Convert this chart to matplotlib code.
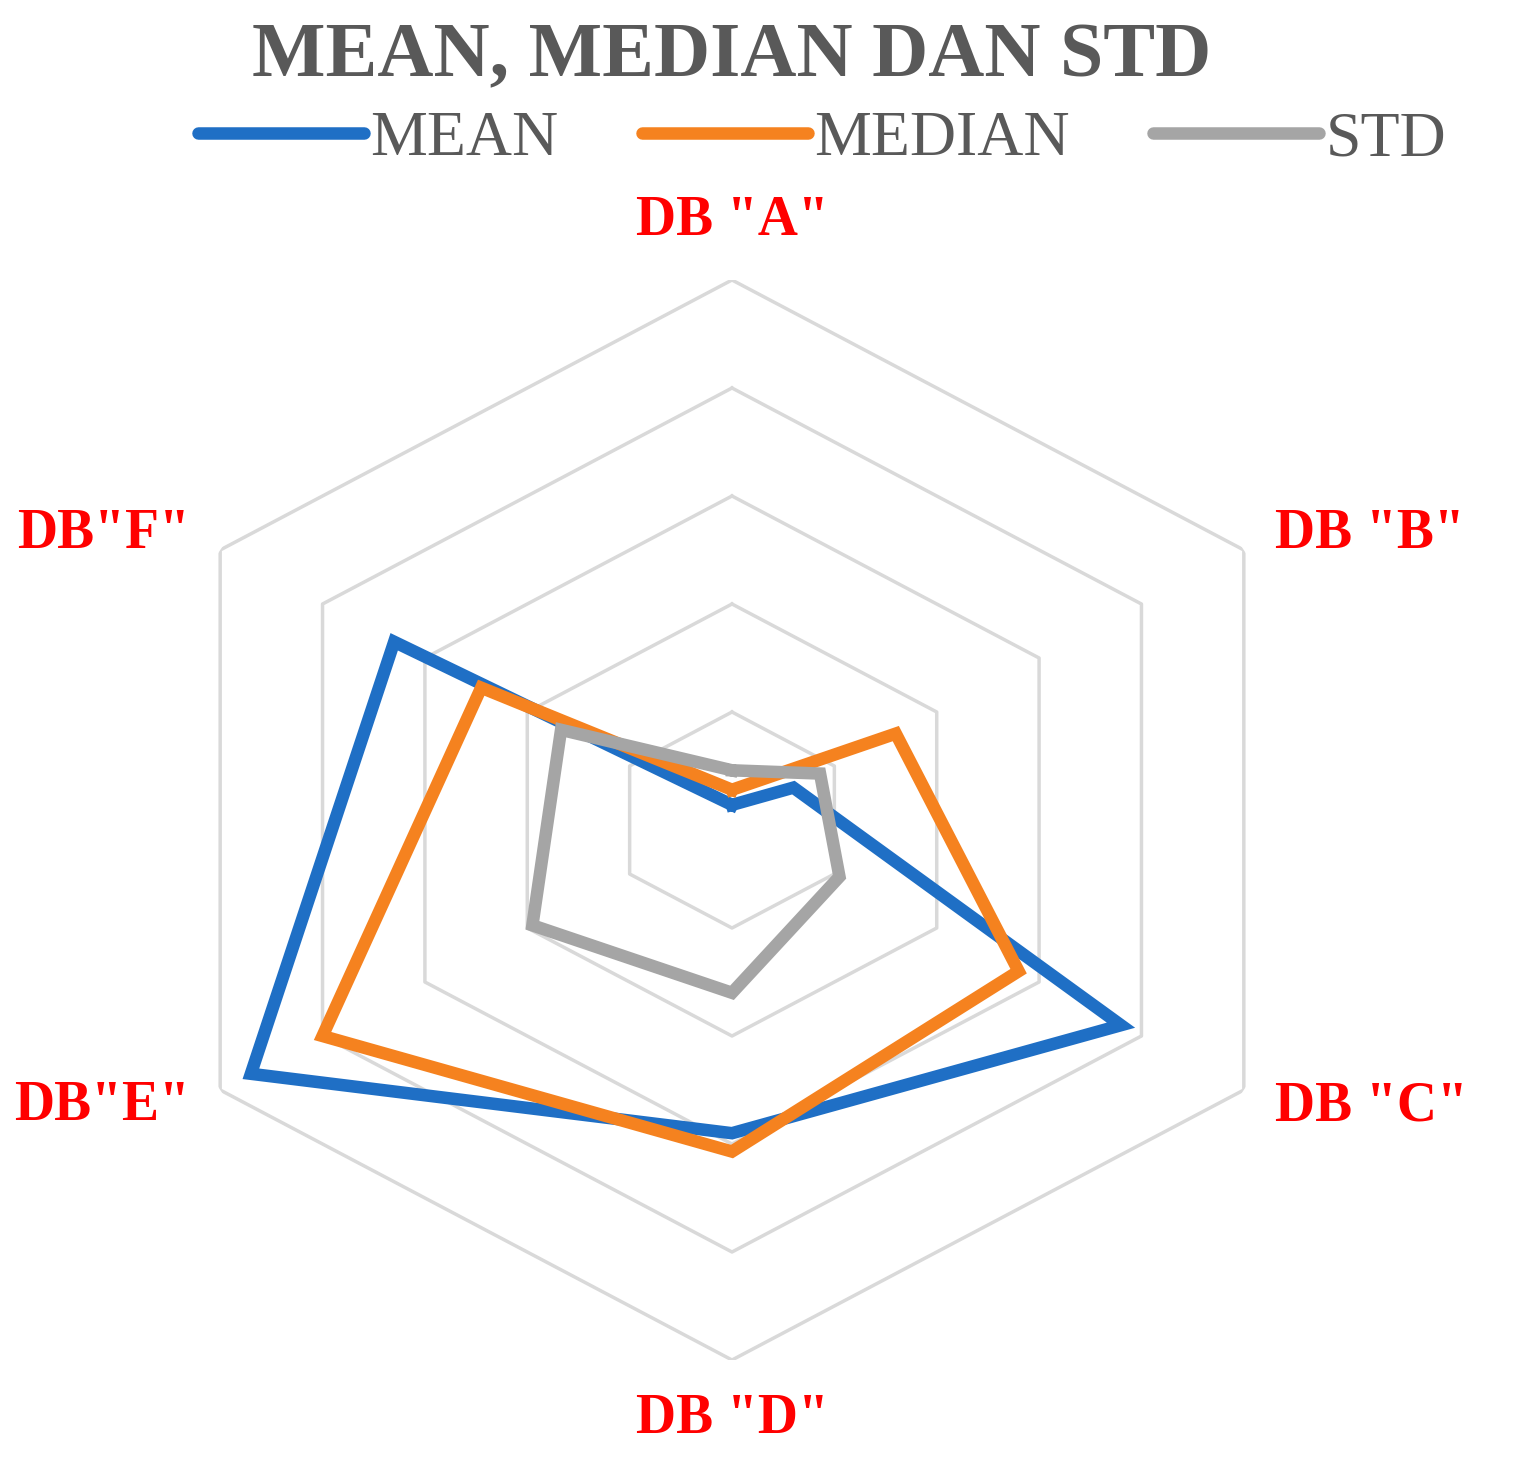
import numpy as np
import matplotlib
matplotlib.use("Agg")
import matplotlib.pyplot as plt

categories = ['DB "A"', 'DB "B"', 'DB "C"', 'DB "D"', 'DB"E"', 'DB"F"']
mean = [0.14, 0.6, 3.8, 2.9, 4.7, 3.3]
median = [0.28, 1.6, 2.8, 3.07, 4.0, 2.45]
std = [0.46, 0.86, 1.05, 1.6, 1.95, 1.67]
series = [("MEAN", mean, "#1f6fc5"), ("MEDIAN", median, "#f5821f"), ("STD", std, "#a5a5a5")]

W, H = 1539, 1473
fig = plt.figure(figsize=(W/100, H/100), dpi=100)
ax = fig.add_axes([141/W, 113/H, 1182/W, 1080/H], projection="polar")
ax.set_aspect("auto")
ax.set_theta_zero_location("N")
ax.set_theta_direction(-1)
ax.set_ylim(0, 5)
ax.grid(False)
ax.spines["polar"].set_visible(False)
ax.set_xticks([]); ax.set_yticks([])

n = len(categories)
theta = np.arange(n) * 2*np.pi/n
tc = np.append(theta, theta[0])
for r in range(1, 6):
    ax.plot(tc, [r]*(n+1), color="#d9d9d9", lw=2.5, zorder=1)

lines = []
for name, vals, col in series:
    v = list(vals) + [vals[0]]
    l, = ax.plot(tc, v, color=col, lw=9, solid_joinstyle="miter", zorder=3, label=name)
    lines.append(l)

label_r = [5.55, 5.3, 5.3, 5.55, 5.3, 5.3]
has = ["center", "left", "left", "center", "right", "right"]
for t, c, rr, ha in zip(theta, categories, label_r, has):
    ax.text(t, rr, c, ha=ha, va="center", color="#ff0000", fontsize=40,
            fontweight="bold", family="Liberation Serif", clip_on=False)

fig.text(732/W, 1 - 58/H, "MEAN, MEDIAN DAN STD", ha="center", va="center",
         fontsize=56, fontweight="bold", color="#595959", family="Liberation Serif")
leg = fig.legend(handles=lines, loc="center", bbox_to_anchor=(822/W, 1 - 140/H), ncol=3,
                 frameon=False, prop={"family": "Liberation Serif", "size": 46},
                 handlelength=2.6, columnspacing=1.3, handletextpad=0.1)
for t in leg.get_texts():
    t.set_color("#595959")
for h in leg.legend_handles:
    h.set_solid_capstyle("round")
fig.savefig("out.png", dpi=100)
